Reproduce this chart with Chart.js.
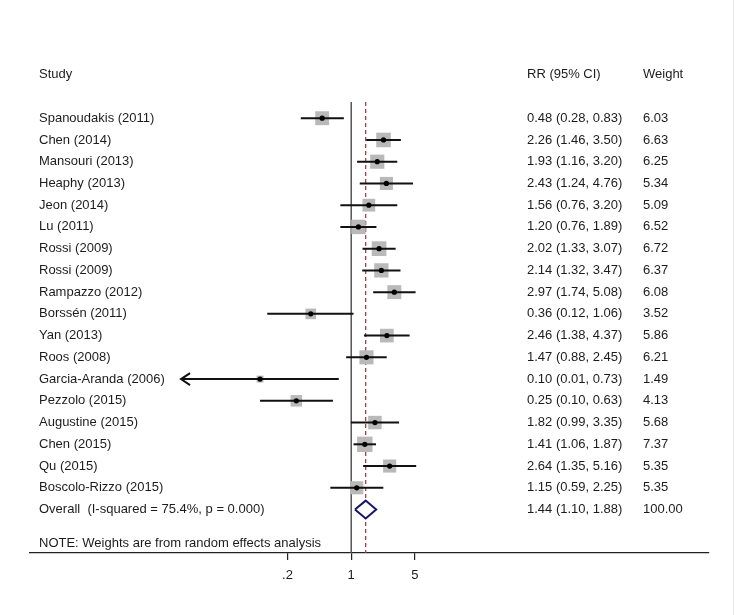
<!DOCTYPE html>
<html>
<head>
<meta charset="utf-8">
<script src="https://cdn.jsdelivr.net/npm/chart.js@4"></script>
<style>
  body { margin: 0; background: #fff; }
  #wrap { width: 733px; height: 615px; border-right: 1px solid #ececec; }
</style>
</head>
<body>
<div id="wrap"><canvas id="forest" width="733" height="615"></canvas></div>
<script>
/* ---------------- DATA ---------------- */
const studies = [
  "Spanoudakis (2011)", "Chen (2014)", "Mansouri (2013)", "Heaphy (2013)",
  "Jeon (2014)", "Lu (2011)", "Rossi (2009)", "Rossi (2009)",
  "Rampazzo (2012)", "Borssén (2011)", "Yan (2013)", "Roos (2008)",
  "Garcia-Aranda (2006)", "Pezzolo (2015)", "Augustine (2015)", "Chen (2015)",
  "Qu (2015)", "Boscolo-Rizzo (2015)"
];
const rr     = [0.48, 2.26, 1.93, 2.43, 1.56, 1.20, 2.02, 2.14, 2.97, 0.36, 2.46, 1.47, 0.10, 0.25, 1.82, 1.41, 2.64, 1.15];
const lower  = [0.28, 1.46, 1.16, 1.24, 0.76, 0.76, 1.33, 1.32, 1.74, 0.12, 1.38, 0.88, 0.01, 0.10, 0.99, 1.06, 1.35, 0.59];
const upper  = [0.83, 3.50, 3.20, 4.76, 3.20, 1.89, 3.07, 3.47, 5.08, 1.06, 4.37, 2.45, 0.73, 0.63, 3.35, 1.87, 5.16, 2.25];
const weights = [6.03, 6.63, 6.25, 5.34, 5.09, 6.52, 6.72, 6.37, 6.08, 3.52, 5.86, 6.21, 1.49, 4.13, 5.68, 7.37, 5.35, 5.35];

const overallLabel = "Overall  (I-squared = 75.4%, p = 0.000)";
const overallRR = 1.44;
const overallLower = 1.10;
const overallUpper = 1.88;
const overallWeight = 100.00;
const noteText = "NOTE: Weights are from random effects analysis";

const tickValues = [0.2, 1, 5];
const tickLabels = [".2", "1", "5"];
const ciClip = 0.0136;   // CI lower limits below this get an arrow

/* ---------------- LAYOUT / STYLE ---------------- */
const FAMILY = "Arial, 'Liberation Sans', sans-serif";
const FONT = "13px " + FAMILY;
const TEXT = "#1c1c1c";
const colStudy = 39, colRR = 527, colWeight = 643;
const rowHeader = -2, rowOverall = studies.length, rowNote = studies.length + 1.58;
const lineTop = -0.75, lineBottom = 20;
const boxScale = 4.0;
const diamondHalf = 0.41;

/* ---------------- DATASETS ---------------- */
const rows = studies.map((_, i) => i);

const ciSets = rows.map(i => ({
  type: "line",
  data: [{ x: Math.max(lower[i], ciClip), y: i }, { x: upper[i], y: i }],
  borderColor: "#111",
  borderWidth: 2,
  pointRadius: 0,
  order: 2
}));

const datasets = [
  {
    type: "line",
    data: [{ x: 1, y: lineTop }, { x: 1, y: lineBottom }],
    borderColor: "#555",
    borderWidth: 1.5,
    pointRadius: 0,
    order: 5
  },
  {
    type: "line",
    data: [{ x: overallRR, y: lineTop }, { x: overallRR, y: lineBottom }],
    borderColor: "#a3404f",
    borderWidth: 1.3,
    borderDash: [4, 3],
    pointRadius: 0,
    order: 4
  },
  {
    type: "scatter",
    data: rows.map(i => ({ x: rr[i], y: i })),
    pointStyle: "rect",
    pointRadius: ctx => boxScale * Math.sqrt(weights[ctx.dataIndex]),
    backgroundColor: "#b9b9b9",
    borderWidth: 0,
    order: 3
  },
  ...ciSets,
  {
    type: "scatter",
    data: rows.map(i => ({ x: rr[i], y: i })),
    pointStyle: "circle",
    pointRadius: 2.6,
    backgroundColor: "#000",
    borderWidth: 0,
    order: 1
  },
  {
    type: "line",
    data: [
      { x: overallLower, y: rowOverall },
      { x: overallRR, y: rowOverall - diamondHalf },
      { x: overallUpper, y: rowOverall },
      { x: overallRR, y: rowOverall + diamondHalf },
      { x: overallLower, y: rowOverall }
    ],
    borderColor: "#16166a",
    borderWidth: 2,
    backgroundColor: "#fff",
    fill: "shape",
    tension: 0,
    pointRadius: 0,
    order: 0
  }
];

/* ---------------- TEXT + ARROWS ---------------- */
const tablePlugin = {
  id: "tablePlugin",
  afterDraw(chart) {
    const c = chart.ctx;
    const ys = chart.scales.y;
    const xs = chart.scales.x;
    c.save();
    c.font = FONT;
    c.fillStyle = TEXT;
    c.textBaseline = "middle";
    c.textAlign = "left";

    let y = ys.getPixelForValue(rowHeader);
    c.fillText("Study", colStudy, y);
    c.fillText("RR (95% CI)", colRR, y);
    c.fillText("Weight", colWeight, y);

    studies.forEach((s, i) => {
      const py = ys.getPixelForValue(i);
      c.fillText(s, colStudy, py);
      c.fillText(rr[i].toFixed(2) + " (" + lower[i].toFixed(2) + ", " + upper[i].toFixed(2) + ")", colRR, py);
      c.fillText(weights[i].toFixed(2), colWeight, py);
    });

    y = ys.getPixelForValue(rowOverall);
    c.fillText(overallLabel, colStudy, y);
    c.fillText(overallRR.toFixed(2) + " (" + overallLower.toFixed(2) + ", " + overallUpper.toFixed(2) + ")", colRR, y);
    c.fillText(overallWeight.toFixed(2), colWeight, y);

    c.fillText(noteText, colStudy, ys.getPixelForValue(rowNote));

    // arrow heads for clipped CIs
    c.strokeStyle = "#111";
    c.lineWidth = 2;
    lower.forEach((lo, i) => {
      if (lo >= ciClip) return;
      const tx = xs.getPixelForValue(ciClip);
      const ty = ys.getPixelForValue(i);
      c.beginPath();
      c.moveTo(tx + 9, ty - 6);
      c.lineTo(tx, ty);
      c.lineTo(tx + 9, ty + 6);
      c.stroke();
    });
    c.restore();
  }
};

/* ---------------- CHART ---------------- */
new Chart(document.getElementById("forest"), {
  type: "scatter",
  data: { datasets },
  options: {
    responsive: false,
    animation: false,
    layout: { padding: { left: 30, right: 24, top: 53, bottom: 0 } },
    plugins: { legend: { display: false }, tooltip: { enabled: false } },
    scales: {
      x: {
        type: "logarithmic",
        min: 0.000349,
        max: 8390,
        afterBuildTicks: s => { s.ticks = tickValues.map(v => ({ value: v })); },
        afterFit: s => { s.height = 62; },
        ticks: {
          autoSkip: false,
          maxRotation: 0,
          padding: 8,
          color: TEXT,
          font: { family: FAMILY, size: 13 },
          callback: (v, i) => tickLabels[i]
        },
        grid: { drawOnChartArea: false, drawTicks: true, tickLength: 7, color: "#222", lineWidth: 1.2 },
        border: { display: true, color: "#222", width: 1.3 }
      },
      y: {
        type: "linear",
        reverse: true,
        min: -3,
        max: 20,
        display: false
      }
    }
  },
  plugins: [tablePlugin]
});
</script>
</body>
</html>
